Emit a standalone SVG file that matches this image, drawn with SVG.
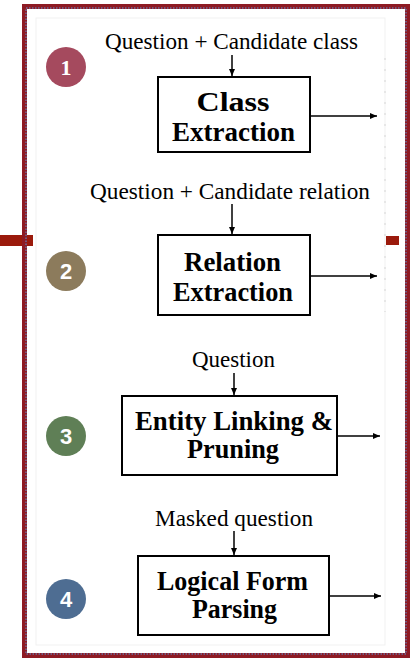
<svg xmlns="http://www.w3.org/2000/svg" width="418" height="659" viewBox="0 0 418 659">
  <defs>
    <marker id="arrow" markerWidth="8" markerHeight="8" refX="7" refY="4" orient="auto" markerUnits="userSpaceOnUse">
      <path d="M0,1 L7,4 L0,7 Z" fill="#000"/>
    </marker>
  </defs>
  <style>
    .frame { fill: none; stroke: #8e1b24; stroke-width: 5; }
    .frame-dots { fill: none; stroke: #6d6f9e; stroke-width: 1.5; stroke-dasharray: 1.5 1.5; }
    .inner { fill: none; stroke: #f1f1f1; stroke-width: 1; }
    .bar { fill: #9b1a0c; }
    .box { fill: #fff; stroke: #000; stroke-width: 2; }
    .badge-num { fill: #fff; font-family: "Liberation Sans", Arial, sans-serif; font-weight: bold; font-size: 22px; text-anchor: middle; }
    .label { fill: #000; font-family: "Liberation Serif", "Times New Roman", serif; font-size: 22.5px; text-anchor: middle; }
    .title { fill: #000; font-family: "Liberation Serif", "Times New Roman", serif; font-weight: bold; font-size: 26.5px; text-anchor: middle; }
    .edge { stroke: #000; stroke-width: 1.5; fill: none; marker-end: url(#arrow); }
    .tick { stroke: #d6d6d6; stroke-width: 1; stroke-dasharray: 2 9; }
  </style>

  <rect width="418" height="659" fill="#fff"/>

  <!-- side tabs -->
  <rect class="bar" x="0" y="235" width="33" height="11"/>
  <rect class="bar" x="386" y="236" width="13" height="9"/>

  <!-- outer frame -->
  <rect class="frame" x="24.5" y="6.5" width="383" height="649"/>
  <rect class="frame-dots" x="26" y="8" width="380" height="646"/>
  <rect class="inner" x="36" y="18" width="349" height="627"/>
  <line class="tick" x1="385" y1="58" x2="385" y2="312"/>

  <!-- step badges -->
  <g id="badge1">
    <circle cx="66" cy="67" r="20" fill="#a54a5e"/>
    <text class="badge-num" x="66" y="75" style="font-family: 'Liberation Serif', serif;">1</text>
  </g>
  <g id="badge2">
    <circle cx="66" cy="271" r="20" fill="#8c7b5c"/>
    <text class="badge-num" x="66" y="279">2</text>
  </g>
  <g id="badge3">
    <circle cx="66" cy="436" r="20" fill="#5f7f56"/>
    <text class="badge-num" x="66" y="444">3</text>
  </g>
  <g id="badge4">
    <circle cx="66" cy="599" r="20" fill="#4e6d92"/>
    <text class="badge-num" x="66" y="607">4</text>
  </g>

  <!-- input labels -->
  <g id="input1"><text class="label" x="231.5" y="49" textLength="253" lengthAdjust="spacingAndGlyphs">Question + Candidate class</text></g>
  <g id="input2"><text class="label" x="230" y="199" textLength="280" lengthAdjust="spacingAndGlyphs">Question + Candidate relation</text></g>
  <g id="input3"><text class="label" x="233.5" y="367" textLength="83" lengthAdjust="spacingAndGlyphs">Question</text></g>
  <g id="input4"><text class="label" x="234" y="526" textLength="158" lengthAdjust="spacingAndGlyphs">Masked question</text></g>

  <!-- processing stages -->
  <g id="class-extraction">
    <rect class="box" x="158" y="77" width="152" height="75"/>
    <text class="title" x="233" y="111" textLength="73" lengthAdjust="spacingAndGlyphs">Class</text>
    <text class="title" x="233.5" y="141" textLength="123" lengthAdjust="spacingAndGlyphs">Extraction</text>
  </g>
  <g id="relation-extraction">
    <rect class="box" x="158" y="235" width="152" height="80"/>
    <text class="title" x="232.5" y="271" textLength="97" lengthAdjust="spacingAndGlyphs">Relation</text>
    <text class="title" x="233" y="301" textLength="120" lengthAdjust="spacingAndGlyphs">Extraction</text>
  </g>
  <g id="entity-linking">
    <rect class="box" x="122" y="396" width="215" height="79"/>
    <text class="title" x="234" y="430" textLength="198" lengthAdjust="spacingAndGlyphs">Entity Linking &amp;</text>
    <text class="title" x="233" y="458" textLength="92" lengthAdjust="spacingAndGlyphs">Pruning</text>
  </g>
  <g id="logical-form-parsing">
    <rect class="box" x="138" y="556" width="191" height="79"/>
    <text class="title" x="232.5" y="590" textLength="151" lengthAdjust="spacingAndGlyphs">Logical Form</text>
    <text class="title" x="234.5" y="618" textLength="85" lengthAdjust="spacingAndGlyphs">Parsing</text>
  </g>

  <!-- connectors -->
  <g id="connectors">
    <line class="edge" x1="232" y1="55" x2="232" y2="76"/>
    <line class="edge" x1="232" y1="204" x2="232" y2="234"/>
    <line class="edge" x1="234" y1="373" x2="234" y2="395"/>
    <line class="edge" x1="234" y1="531" x2="234" y2="555"/>
    <line class="edge" x1="310" y1="116" x2="377" y2="116"/>
    <line class="edge" x1="310" y1="276" x2="377" y2="276"/>
    <line class="edge" x1="337" y1="436" x2="380" y2="436"/>
    <line class="edge" x1="329" y1="596" x2="381" y2="596"/>
  </g>
</svg>
